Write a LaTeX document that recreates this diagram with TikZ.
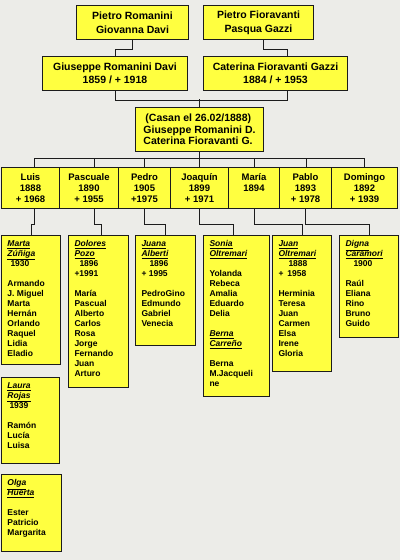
\documentclass[tikz,border=0pt]{standalone}
\usepackage{fontspec}
\setmainfont{Liberation Sans}
\definecolor{boxyellow}{RGB}{255,255,64}
\definecolor{bggray}{RGB}{236,236,232}
\definecolor{edge}{RGB}{28,28,28}
\newcommand{\spname}[1]{\underline{\itshape #1}}
\tikzset{
  fam/.style={draw=edge, fill=boxyellow, line width=1pt, anchor=north west,
    inner sep=0pt, align=center},
  parent/.style={fam, font=\bfseries\fontsize{10.5}{14}\selectfont},
  child/.style={fam, minimum height=41, font=\bfseries\fontsize{9.5}{11}\selectfont},
  spouse/.style={fam, inner xsep=6pt, inner ysep=5pt, align=left,
    font=\bfseries\fontsize{8.5}{10}\selectfont},
  link/.style={draw=edge, line width=0.9pt}
}
\begin{document}
\begin{tikzpicture}[x=1pt,y=-1pt]
\fill[bggray] (0,0) rectangle (400,560);
\useasboundingbox (0,0) rectangle (400,560);
% grandparents
\node[parent, minimum width=112, minimum height=34] (pietror) at (76,5) {Pietro Romanini\\Giovanna Davi};
\node[parent, minimum width=110, minimum height=34] (pietrof) at (203,5) {Pietro Fioravanti\\Pasqua Gazzi};
\node[parent, minimum width=145, minimum height=34, font=\bfseries\fontsize{10.5}{13}\selectfont] (giuseppe) at (42,56) {Giuseppe Romanini Davi\\1859 / + 1918};
\node[parent, minimum width=144, minimum height=34, font=\bfseries\fontsize{10.5}{13}\selectfont] (caterina) at (203,56) {Caterina Fioravanti Gazzi\\1884 / + 1953};
\node[parent, minimum width=128, minimum height=44, align=left, font=\bfseries\fontsize{10.5}{11.5}\selectfont] (casan) at (135,107) {\hspace*{2pt}(Casan el 26.02/1888)\\Giuseppe Romanini D.\\Caterina Fioravanti G.};
%
\draw[link] (pietror.south) -- ++(0,9) -| (giuseppe.north);
\draw[link] ([xshift=5]pietrof.south) -- ++(0,9) -| ([xshift=12]caterina.north);
\draw[link] (giuseppe.south) -- ++(0,9) -| ([xshift=12]caterina.south);
\draw[link] (casan.north) -- ++(0,-8);
% children
\node[child, minimum width=58] (luis) at (1,167) {Luis\\1888\\+ 1968};
\node[child, minimum width=59] (pascuale) at (59,167) {Pascuale\\1890\\+ 1955};
\node[child, minimum width=52] (pedro) at (118,167) {Pedro\\1905\\+1975};
\node[child, minimum width=58] (joaquin) at (170,167) {Joaquín\\1899\\+ 1971};
\node[child, minimum width=51] (maria) at (228,167) {María\\1894\\\phantom{+ 1900}};
\node[child, minimum width=52] (pablo) at (279,167) {Pablo\\1893\\+ 1978};
\node[child, minimum width=66] (domingo) at (331,167) {Domingo\\1892\\+ 1939};
%
\draw[link] (casan.south) -- (joaquin.north);
\draw[link] ([xshift=4]luis.north) -- ++(0,-9) -| (domingo.north);
\foreach \c/\dx in {pascuale/5,pedro/0,maria/0,pablo/1}
  \draw[link] ([xshift=\dx]\c.north) -- ++(0,-9);
% spouses and grandchildren
\node[spouse] (marta) at (1,235) {\parbox[t][119pt][t]{47pt}{\raggedright
  \spname{Marta}\\\spname{Zúñiga}\\\hspace*{3pt}1930\\[10pt]Armando\\J. Miguel\\Marta\\Hernán\\Orlando\\Raquel\\Lidia\\Eladio}};
\node[spouse] (dolores) at (68,235) {\parbox[t][142pt][t]{48pt}{\raggedright
  \spname{Dolores}\\\spname{Pozo}\\\hspace*{5pt}1896\\+1991\\[10pt]María\\Pascual\\Alberto\\Carlos\\Rosa\\Jorge\\Fernando\\Juan\\Arturo}};
\node[spouse] (juana) at (135,235) {\parbox[t][100pt][t]{48pt}{\raggedright
  \spname{Juana}\\\spname{Alberti}\\\hspace*{8pt}1896\\+ 1995\\[10pt]PedroGino\\Edmundo\\Gabriel\\Venecia}};
\node[spouse] (sonia) at (203,235) {\parbox[t][151pt][t]{54pt}{\raggedright
  \spname{Sonia}\\\spname{Oltremari}\\[10pt]Yolanda\\Rebeca\\Amalia\\Eduardo\\Delia\\[10pt]\spname{Berna}\\\spname{Carreño}\\[10pt]Berna\\M.Jacqueli\\ne}};
\node[spouse] (juan) at (272,235) {\parbox[t][126pt][t]{47pt}{\raggedright
  \spname{Juan}\\\spname{Oltremari}\\\hspace*{10pt}1888\\+\hspace*{4pt}1958\\[10pt]Herminia\\Teresa\\Juan\\Carmen\\Elsa\\Irene\\Gloria}};
\node[spouse] (digna) at (339,235) {\parbox[t][92pt][t]{47pt}{\raggedright
  \spname{Digna}\\\spname{Caramori}\\\hspace*{8pt}1900\\[10pt]Raúl\\Eliana\\Rino\\Bruno\\Guido}};
\node[spouse] (laura) at (1,377) {\parbox[t][76pt][t]{46pt}{\raggedright
  \spname{Laura}\\\spname{Rojas}\\\hspace*{2pt}1939\\[10pt]Ramón\\Lucía\\Luisa}};
\node[spouse] (olga) at (1,474) {\parbox[t][67pt][t]{48pt}{\raggedright
  \spname{Olga}\\\spname{Huerta}\\[10pt]Ester\\Patricio\\Margarita}};
%
\draw[link] ([xshift=4]luis.south) -- ++(0,15) -| (marta.north);
\draw[link] ([xshift=5]pascuale.south) -- ++(0,15) -| ([xshift=3]dolores.north);
\draw[link] (pedro.south) -- ++(0,15) -| (juana.north);
\draw[link] (joaquin.south) -- ++(0,15) -| ([xshift=-3]sonia.north);
\draw[link] (maria.south) -- ++(0,15) -| (juan.north);
\draw[link] (pablo.south) -- ++(0,15) -| (digna.north);
\end{tikzpicture}
\end{document}
